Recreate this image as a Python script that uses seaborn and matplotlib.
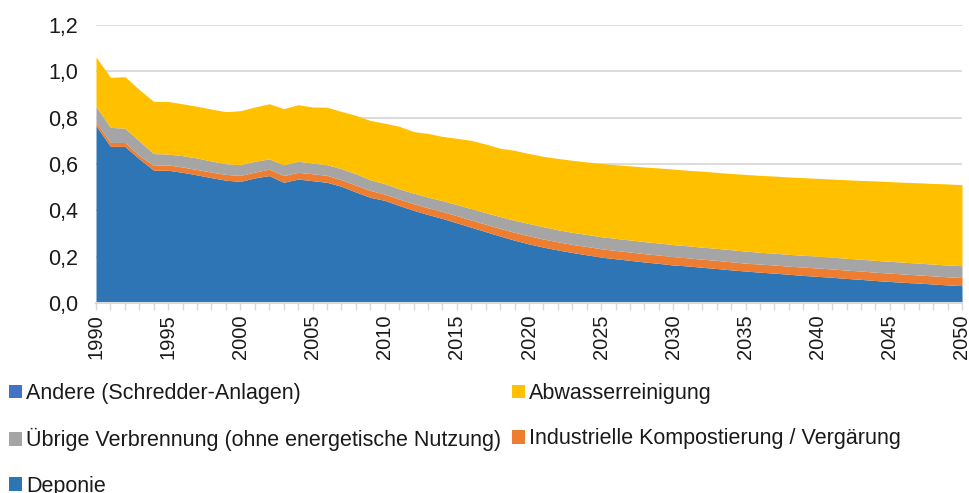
import numpy as np
import pandas as pd
import seaborn as sns
import matplotlib
matplotlib.use("Agg")
import matplotlib.pyplot as plt
from matplotlib.patches import Patch
from matplotlib.ticker import FuncFormatter, MultipleLocator

years = list(range(1990, 2051))

deponie = [0.765, 0.676, 0.676, 0.622, 0.573, 0.573, 0.564, 0.553, 0.541, 0.530,
           0.525, 0.540, 0.550, 0.521, 0.535, 0.528, 0.521, 0.504, 0.479, 0.456,
           0.443, 0.421, 0.400, 0.382, 0.365, 0.346, 0.327, 0.308, 0.289, 0.271,
           0.255, 0.241, 0.229, 0.218, 0.208, 0.198, 0.191, 0.184, 0.177, 0.171,
           0.164, 0.160, 0.154, 0.149, 0.143, 0.138, 0.133, 0.129, 0.124, 0.119,
           0.115, 0.111, 0.106, 0.102, 0.097, 0.093, 0.089, 0.086, 0.082, 0.078,
           0.075]
kompost = [0.015, 0.017, 0.017, 0.015, 0.021, 0.023, 0.023, 0.023, 0.024, 0.025,
           0.026, 0.025, 0.028, 0.029, 0.029, 0.030, 0.030, 0.028, 0.030, 0.030,
           0.027, 0.028, 0.029, 0.029, 0.030, 0.031, 0.031, 0.032, 0.033, 0.034,
           0.035, 0.035, 0.035, 0.035, 0.036, 0.036, 0.036, 0.036, 0.036, 0.036,
           0.036, 0.035, 0.035, 0.035, 0.035, 0.034, 0.035, 0.035, 0.035, 0.036,
           0.036, 0.036, 0.036, 0.036, 0.036, 0.036, 0.036, 0.035, 0.035, 0.035,
           0.035]
verbrennung = [0.069, 0.065, 0.062, 0.062, 0.051, 0.047, 0.049, 0.050, 0.048, 0.046,
               0.046, 0.047, 0.044, 0.047, 0.048, 0.046, 0.046, 0.048, 0.049, 0.046,
               0.045, 0.044, 0.045, 0.046, 0.047, 0.048, 0.049, 0.050, 0.051, 0.052,
               0.053, 0.053, 0.052, 0.052, 0.052, 0.052, 0.052, 0.052, 0.052, 0.052,
               0.052, 0.052, 0.052, 0.052, 0.052, 0.052, 0.051, 0.051, 0.051, 0.051,
               0.051, 0.051, 0.051, 0.051, 0.051, 0.051, 0.051, 0.051, 0.051, 0.051,
               0.051]
abwasser = [0.213, 0.216, 0.222, 0.222, 0.225, 0.227, 0.224, 0.223, 0.224, 0.225,
            0.233, 0.234, 0.238, 0.242, 0.244, 0.242, 0.248, 0.247, 0.252, 0.256,
            0.261, 0.270, 0.266, 0.275, 0.277, 0.286, 0.295, 0.296, 0.295, 0.302,
            0.302, 0.304, 0.308, 0.311, 0.313, 0.316, 0.318, 0.320, 0.322, 0.324,
            0.326, 0.326, 0.328, 0.328, 0.329, 0.331, 0.332, 0.333, 0.334, 0.335,
            0.336, 0.337, 0.339, 0.340, 0.343, 0.344, 0.345, 0.347, 0.348, 0.350,
            0.350]
andere = [0.0, 0.0, 0.0, 0.0, 0.0, 0.0, 0.0, 0.0, 0.0, 0.0,
          0.0, 0.0, 0.0, 0.0, 0.0, 0.0, 0.0, 0.0, 0.0, 0.0,
          0.0, 0.0, 0.0, 0.0, 0.0, 0.0, 0.0, 0.0, 0.0, 0.0,
          0.0, 0.0, 0.0, 0.0, 0.0, 0.0, 0.0, 0.0, 0.0, 0.0,
          0.0, 0.0, 0.0, 0.0, 0.0, 0.0, 0.0, 0.0, 0.0, 0.0,
          0.0, 0.0, 0.0, 0.0, 0.0, 0.0, 0.0, 0.0, 0.0, 0.0,
          0.0]

series_names = ["Deponie",
                "Industrielle Kompostierung / Vergärung",
                "Übrige Verbrennung (ohne energetische Nutzung)",
                "Abwasserreinigung",
                "Andere (Schredder-Anlagen)"]
colors = ["#2E75B6", "#ED7D31", "#A5A5A5", "#FFC000", "#4472C4"]
y_ticks = [0.0, 0.2, 0.4, 0.6, 0.8, 1.0, 1.2]

df = pd.DataFrame({"Jahr": years,
                   series_names[0]: deponie,
                   series_names[1]: kompost,
                   series_names[2]: verbrennung,
                   series_names[3]: abwasser,
                   series_names[4]: andere})

sns.set_theme(style="white")
plt.rcParams["font.family"] = ["Liberation Sans", "DejaVu Sans"]

fig = plt.figure(figsize=(9.69, 4.93), dpi=100)
ax = fig.add_axes([96 / 969, 1 - 303 / 493, (962 - 96) / 969, (303 - 25) / 493])

ax.stackplot(df["Jahr"], [df[n] for n in series_names], colors=colors,
             linewidth=0, zorder=2)

ax.set_xlim(1990, 2050)
ax.set_ylim(0, 1.2)
ax.set_yticks(y_ticks)
ax.yaxis.set_major_formatter(FuncFormatter(lambda v, p: f"{v:.1f}".replace(".", ",")))
ax.xaxis.set_major_locator(MultipleLocator(5))
ax.xaxis.set_minor_locator(MultipleLocator(1))
ax.grid(axis="y", color="#D9D9D9", linewidth=1.3, zorder=0)
ax.set_axisbelow(True)
sns.despine(ax=ax, left=True, top=True, right=True)
ax.spines["bottom"].set_color("#D9D9D9")
ax.spines["bottom"].set_linewidth(1.5)
ax.spines["bottom"].set_zorder(3)

ax.tick_params(axis="x", which="both", direction="out", length=5, width=1,
               color="#D9D9D9", bottom=True, labelsize=14.5, labelcolor="#1a1a1a",
               rotation=90, pad=3)
ax.tick_params(axis="y", which="both", length=0, labelsize=15.5,
               labelcolor="#1a1a1a", pad=13)
ax.set_xlabel("")
ax.set_ylabel("")

# Legend ordered row-wise as in the reference (2 columns)
handle_map = {n: Patch(facecolor=c, edgecolor="none") for n, c in zip(series_names, colors)}
order = [series_names[4], series_names[2], series_names[0], series_names[3], series_names[1]]
fig.legend([handle_map[n] for n in order], order, loc="upper left",
           bbox_to_anchor=(9 / 969, 1 - 383 / 493), ncol=2, frameon=False,
           fontsize=15.5, handlelength=0.6, handleheight=0.6, handletextpad=0.2,
           columnspacing=0.5, labelspacing=1.13, borderpad=0, borderaxespad=0,
           labelcolor="#1a1a1a")

fig.savefig("out.png", dpi=100)
